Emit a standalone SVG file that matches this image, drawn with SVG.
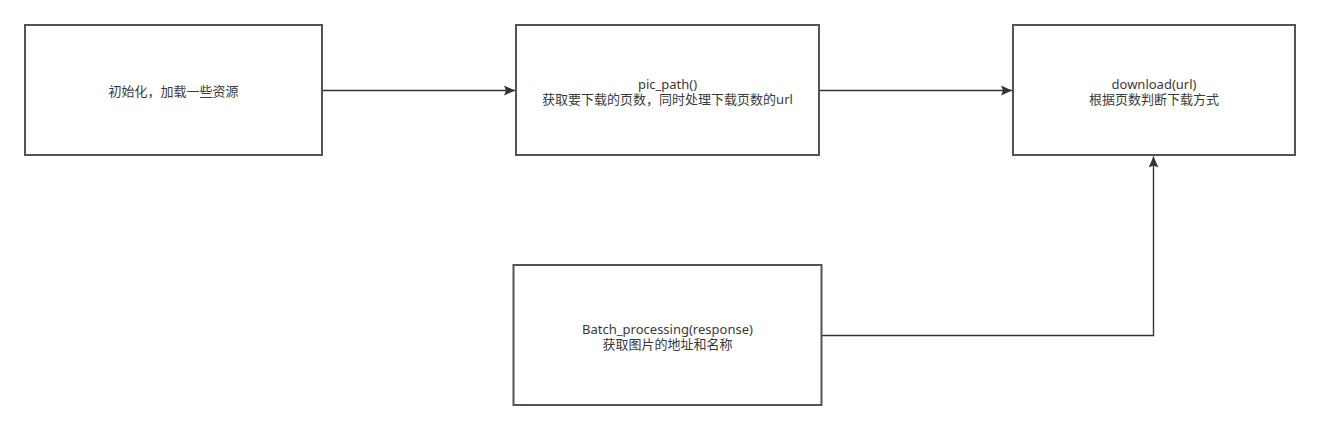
<svg xmlns="http://www.w3.org/2000/svg" width="1320" height="431" viewBox="0 0 1320 431">
<style>
.box{fill:#ffffff;stroke:#50555b;stroke-width:2}
.lbl{font-family:"Noto Sans","Noto Sans CJK SC",sans-serif;font-size:13px;fill:#3a3a3a;text-anchor:middle}
.edge{fill:none;stroke:#333333;stroke-width:1.4}
</style>
<defs>
<marker id="arr" viewBox="0 0 11 10" refX="11" refY="5" markerWidth="11" markerHeight="10" markerUnits="userSpaceOnUse" orient="auto">
<path d="M0,0 L11,5 L0,10 L2,5 Z" fill="#333333"/>
</marker>
</defs>
<rect width="1320" height="431" fill="#ffffff"/>
<g id="connectors">
<line class="edge" x1="323" y1="90.5" x2="515" y2="90.5" marker-end="url(#arr)"/>
<line class="edge" x1="820" y1="90.5" x2="1012" y2="90.5" marker-end="url(#arr)"/>
<polyline class="edge" points="822,335.5 1153.5,335.5 1153.5,156.5" marker-end="url(#arr)"/>
</g>
<g id="node-init">
<rect class="box" x="25" y="25" width="297" height="130"/>
<text class="lbl" x="173.5" y="96">初始化，加载一些资源</text>
</g>
<g id="node-pic-path">
<rect class="box" x="516" y="25" width="303" height="130"/>
<text class="lbl" x="667.5" y="88.5">pic_path()</text>
<text class="lbl" x="667.5" y="104">获取要下载的页数，同时处理下载页数的url</text>
</g>
<g id="node-download">
<rect class="box" x="1013" y="25" width="282" height="130"/>
<text class="lbl" x="1154" y="88.5">download(url)</text>
<text class="lbl" x="1154" y="104">根据页数判断下载方式</text>
</g>
<g id="node-batch">
<rect class="box" x="513.5" y="265" width="308" height="140"/>
<text class="lbl" x="667.5" y="333.5">Batch_processing(response)</text>
<text class="lbl" x="667.5" y="349">获取图片的地址和名称</text>
</g>
</svg>
